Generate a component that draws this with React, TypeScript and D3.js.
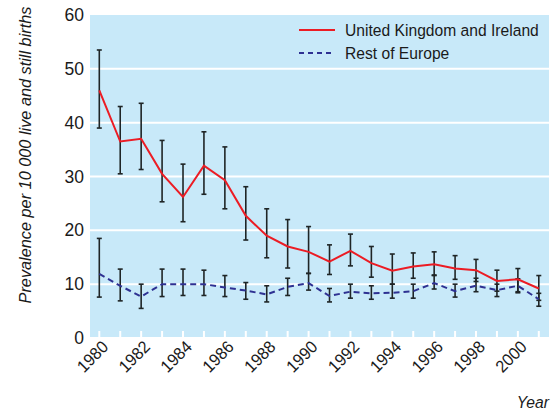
import * as d3 from 'd3';

const years = d3.range(1980, 2002);

const ukValues = [46, 36.5, 37, 30.5, 26.2, 32, 29.3, 22.7, 19, 17, 16, 14.2, 16.2, 13.9, 12.5, 13.3, 13.7, 12.9, 12.6, 10.6, 10.9, 9.2];
const ukLow = [39, 30.5, 31.3, 25.3, 21.6, 26.7, 24, 18.2, 14.9, 13, 12, 11.8, 13.4, 11.3, 10, 11.1, 11.6, 10.9, 10.5, 8.7, 8.6, 7];
const ukHigh = [53.5, 43, 43.6, 36.7, 32.3, 38.3, 35.5, 28.1, 24, 22, 20.7, 17.3, 19.3, 17, 15.6, 15.8, 16, 15.3, 14.6, 12.6, 12.9, 11.6];

const euValues = [11.9, 9.7, 7.7, 10, 10, 10, 9.4, 8.8, 8.1, 9.5, 10.2, 7.8, 8.6, 8.3, 8.4, 8.7, 10.2, 8.7, 9.7, 8.9, 9.7, 7.2];
const euLow = [7.6, 6.9, 5.5, 7.7, 7.9, 7.9, 7.7, 7.2, 6.7, 7.9, 8.9, 6.7, 7.4, 7.2, 7.4, 7.4, 9.1, 7.6, 8.6, 7.7, 8.4, 5.9];
const euHigh = [18.5, 12.8, 10, 12.8, 12.8, 12.6, 11.6, 10.3, 9.7, 11.1, 12, 9.2, 10, 9.7, 10, 10, 11.7, 10, 11.1, 10, 11, 8.3];

const yTicks = [0, 10, 20, 30, 40, 50, 60];
const labelYears = d3.range(1980, 2001, 2);

const FONT = '"Liberation Sans", Arial, sans-serif';
const INK = '#1a1a1a';

export default function App() {
  const width = 555;
  const height = 412;
  const panel = { left: 90, right: 549, top: 15, bottom: 337 };

  const x = d3.scaleLinear().domain([1980, 2001]).range([99.3, 538.8]);
  const y = d3.scaleLinear().domain([0, 60]).range([338, 15]);

  const line = d3.line<number>()
    .x((_, i) => x(years[i]))
    .y(d => y(d));

  // vertical bars with small caps
  const errorBars = (low: number[], high: number[], key: string) =>
    years.map((yr, i) => (
      <g key={`${key}-${yr}`} stroke="#1f2526" strokeWidth={1.6}>
        <line x1={x(yr)} x2={x(yr)} y1={y(low[i])} y2={y(high[i])} />
        <line x1={x(yr) - 2.5} x2={x(yr) + 2.5} y1={y(low[i])} y2={y(low[i])} />
        <line x1={x(yr) - 2.5} x2={x(yr) + 2.5} y1={y(high[i])} y2={y(high[i])} />
      </g>
    ));

  return (
    <svg width={width} height={height} style={{ position: 'absolute', left: 0, top: 0 }} fontFamily={FONT}>
      <rect x={0} y={0} width={width} height={height} fill="#fff" />
      <rect x={panel.left} y={panel.top} width={panel.right - panel.left} height={panel.bottom - panel.top} fill="#c8e9f9" />

      {/* gridlines */}
      {yTicks.filter(t => t > 0 && t < 60).map(t => (
        <line key={t} x1={panel.left} x2={panel.right} y1={y(t)} y2={y(t)} stroke="#fff" strokeWidth={2} />
      ))}

      {/* x ticks */}
      {years.map(yr => (
        <line key={yr} x1={x(yr)} x2={x(yr)} y1={panel.bottom - 6} y2={panel.bottom} stroke="#fff" strokeWidth={2} />
      ))}

      {/* y tick labels */}
      {yTicks.map(t => (
        <text key={t} x={84} y={y(t) + 6} textAnchor="end" fontSize={17.5} fill={INK}>{t}</text>
      ))}

      {/* x tick labels */}
      {labelYears.map(yr => (
        <text key={yr} transform={`translate(${x(yr) + 10},${panel.bottom + 11}) rotate(-45) scale(0.95,1)`} textAnchor="end" fontSize={17} fill={INK}>{yr}</text>
      ))}

      {errorBars(euLow, euHigh, 'eu')}
      {errorBars(ukLow, ukHigh, 'uk')}

      <path d={line(euValues) ?? ''} fill="none" stroke="#2e3192" strokeWidth={2} strokeDasharray="6,4" />
      <path d={line(ukValues) ?? ''} fill="none" stroke="#ec1c24" strokeWidth={2} />

      {/* legend */}
      <line x1={299} x2={335} y1={30} y2={30} stroke="#ec1c24" strokeWidth={2} />
      <text transform="translate(345,36) scale(0.92,1)" fontSize={17} fill={INK}>United Kingdom and Ireland</text>
      <line x1={299} x2={335} y1={53} y2={53} stroke="#2e3192" strokeWidth={2} strokeDasharray="5,4" />
      <text transform="translate(345,59) scale(0.92,1)" fontSize={17} fill={INK}>Rest of Europe</text>

      {/* axis titles */}
      <text transform="translate(31,155) rotate(-90)" textAnchor="middle" fontSize={16.3} fontStyle="italic" fill={INK}>
        Prevalence per 10 000 live and still births
      </text>
      <text transform="translate(549,408) scale(0.95,1)" textAnchor="end" fontSize={16.5} fontStyle="italic" fill={INK}>Year</text>
    </svg>
  );
}
